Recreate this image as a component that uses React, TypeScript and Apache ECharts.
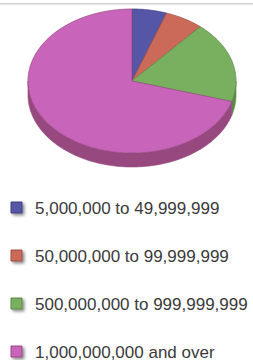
import React, { useEffect, useRef } from "react";
import * as echarts from "echarts";

const categories = [
  "5,000,000 to 49,999,999",
  "50,000,000 to 99,999,999",
  "500,000,000 to 999,999,999",
  "1,000,000,000 and over",
];
const values = [5.4, 6.0, 18.2, 70.4];
const topColors = ["#5656a6", "#cc6a5a", "#79b060", "#c865bb"];
const sideColors = ["#3f3f82", "#9c4f43", "#5a8a45", "#96487f"];

export default function App() {
  const ref = useRef<HTMLDivElement>(null);
  useEffect(() => {
    if (!ref.current) return;
    const chart = echarts.init(ref.current, undefined, { renderer: "svg" });
    const total = values.reduce((a, b) => a + b, 0);
    const cum: number[] = [0];
    values.forEach((v, i) => cum.push(cum[i] + v));

    const cx = 132;
    const cy = 81;
    const rx = 104;
    const ry = 72;
    const depth = 14;

    const pt = (deg: number, dy = 0) => {
      const r = (deg * Math.PI) / 180;
      return [cx + rx * Math.sin(r), cy - ry * Math.cos(r) + dy];
    };
    const arc = (a: number, b: number, dy = 0) => {
      const pts: number[][] = [];
      const n = Math.max(2, Math.ceil(Math.abs(b - a)));
      for (let k = 0; k <= n; k++) pts.push(pt(a + ((b - a) * k) / n, dy));
      return pts;
    };

    const renderItem = (params: any, api: any) => {
      const i = params.dataIndex;
      const v = api.value(0);
      const start = (cum[i] / total) * 360;
      const end = start + (v / total) * 360;
      const children: any[] = [];
      const s = Math.max(start, 90);
      const e = Math.min(end, 270);
      if (e > s) {
        const top = arc(s, e);
        const bottom = arc(e, s, depth);
        children.push({
          type: "polygon",
          z2: 1,
          shape: { points: top.concat(bottom) },
          style: { fill: sideColors[i], stroke: sideColors[i], lineWidth: 0.6 },
        });
      }
      children.push({
        type: "polygon",
        z2: 10,
        shape: { points: [[cx, cy]].concat(arc(start, end)) },
        style: { fill: topColors[i], stroke: sideColors[i], lineWidth: 0.7 },
      });
      return { type: "group", children };
    };

    const legendY = [208, 256, 304, 352];
    const graphic: any[] = [
      {
        type: "rect",
        shape: { x: 0, y: 3, width: 253, height: 1.5 },
        style: { fill: "#d2d2d2" },
      },
    ];
    categories.forEach((c, i) => {
      graphic.push({
        type: "rect",
        shape: { x: 11, y: legendY[i] - 6, width: 11, height: 11 },
        style: {
          fill: topColors[i],
          stroke: sideColors[i],
          lineWidth: 1,
          shadowBlur: 3,
          shadowOffsetX: 2,
          shadowOffsetY: 2,
          shadowColor: "rgba(0,0,0,0.45)",
        },
      });
      graphic.push({
        type: "text",
        x: 35,
        y: legendY[i],
        style: {
          text: c,
          fill: "#3a3a3a",
          font: '17px "Liberation Sans", Arial, sans-serif',
          verticalAlign: "middle",
          align: "left",
        },
      });
    });

    chart.setOption({
      animation: false,
      backgroundColor: "#ffffff",
      series: [
        {
          type: "custom",
          coordinateSystem: "none",
          renderItem,
          data: values.map((v, i) => ({ name: categories[i], value: [v] })),
        },
      ],
      graphic,
    });
    return () => chart.dispose();
  }, []);
  return (
    <div
      ref={ref}
      style={{ position: "fixed", left: 0, top: 0, width: 253, height: 360 }}
    />
  );
}
